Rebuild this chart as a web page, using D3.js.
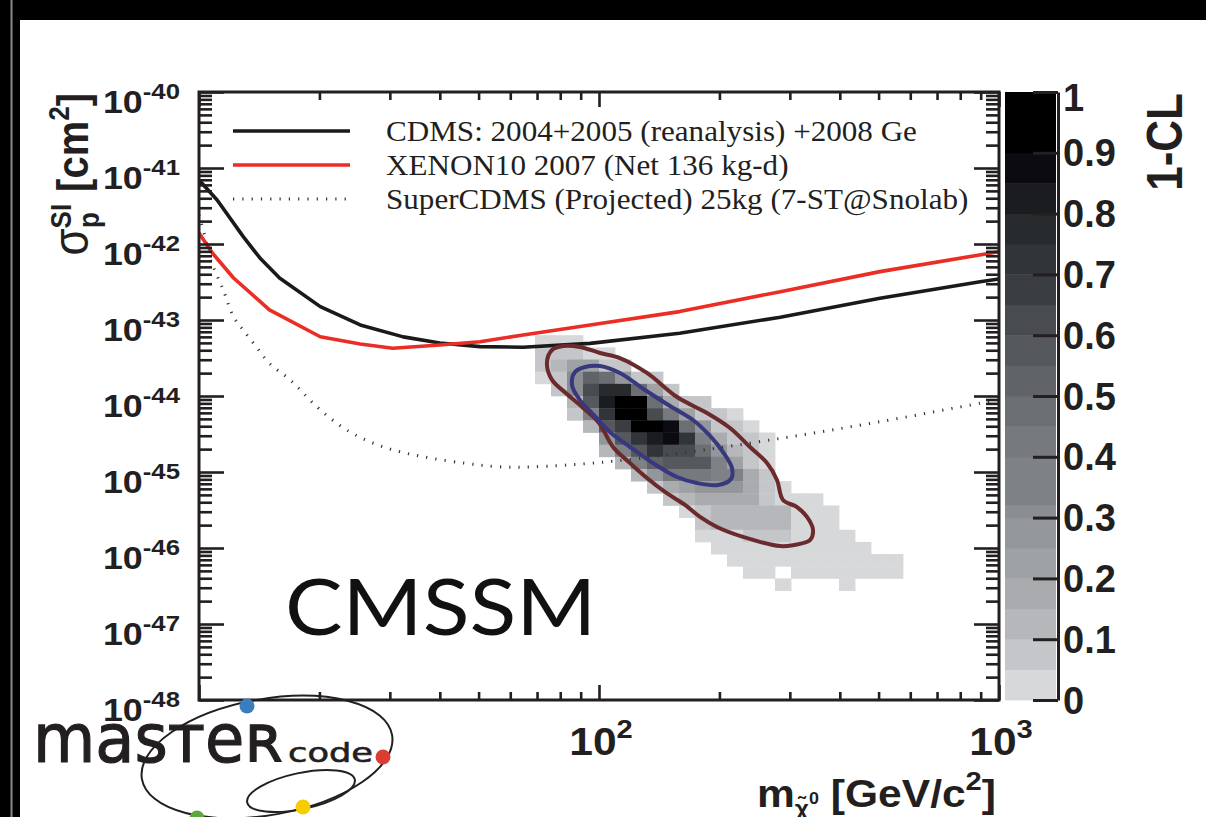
<!DOCTYPE html>
<html>
<head>
<meta charset="utf-8">
<script src="https://cdn.jsdelivr.net/npm/d3@7"></script>
<style>
  html, body { margin: 0; padding: 0; background: #fff; }
  svg { display: block; }
  .ticks .tick line { stroke: #231f20; stroke-width: 2.6; }
  .ticks .domain { display: none; }
  .cbaxis .tick line { stroke: #231f20; stroke-width: 3; }
  .cbaxis .domain { stroke: #231f20; stroke-width: 3; }
</style>
</head>
<body>
<svg id="chart" width="1206" height="817"></svg>
<script>
// ---------- data ----------
// Direct-detection upper limits: [neutralino mass (GeV), sigma_SI (cm^2)]
const cdmsLimit = [
  [10, 6.95e-42], [11.1, 3.79e-42], [12.9, 1.25e-42], [14.2, 6.55e-43], [15.9, 3.57e-43],
  [20.1, 1.50e-43], [25.3, 8.6e-44], [32.4, 6.0e-44], [40, 4.98e-44], [50.4, 4.46e-44],
  [64.6, 4.38e-44], [95, 4.93e-44], [159, 6.68e-44], [284, 1.09e-43], [504, 1.93e-43],
  [897, 3.19e-43], [1000, 3.46e-43]
];
const xenonLimit = [
  [10, 1.4e-42], [10.8, 7.62e-43], [12.2, 3.57e-43], [15.0, 1.36e-43], [20.1, 6.02e-44],
  [25.3, 4.83e-44], [30.5, 4.24e-44], [40, 4.69e-44], [50.4, 5.18e-44], [64.6, 6.35e-44],
  [95, 8.6e-44], [159, 1.29e-43], [284, 2.36e-43], [504, 4.33e-43], [1000, 7.92e-43]
];
const superCdmsProjection = [
  [10, 2.41e-42], [10.35, 1.25e-42], [10.65, 6.55e-43], [11.5, 2.48e-43], [12.2, 1.10e-43],
  [12.9, 7.38e-44], [13.9, 4.46e-44], [15.0, 2.69e-44], [16.9, 1.63e-44], [19.7, 7.23e-45],
  [23.4, 3.57e-45], [28.8, 2.15e-45], [36.3, 1.59e-45], [46.5, 1.30e-45], [56.2, 1.17e-45],
  [68.0, 1.17e-45], [100, 1.33e-45], [159, 1.76e-45], [284, 2.77e-45], [504, 4.59e-45],
  [897, 8.02e-45], [1000, 8.85e-45]
];

// 95% CL and 68% CL contours of the CMSSM fit
const contour95 = [
  [76.3, 4.03e-44], [74.1, 2.72e-44], [76.3, 1.63e-44], [82.7, 1.09e-44], [90.7, 7.16e-45],
  [100, 4.42e-45], [108.4, 2.13e-45], [119.6, 1.31e-45], [131.8, 8.34e-46], [146.2, 5.46e-46],
  [164.1, 3.68e-46], [178.9, 2.56e-46], [197.2, 1.89e-46], [229.1, 1.40e-46], [283.5, 1.06e-46],
  [305.5, 1.09e-46], [336.9, 1.27e-46], [342.8, 1.73e-46], [331.1, 2.56e-46], [312.6, 3.46e-46],
  [288.4, 4.29e-46], [278.6, 7.85e-46], [263.0, 1.31e-45], [238.5, 2.13e-45], [212.6, 3.79e-45],
  [186.2, 5.97e-45], [156.7, 9.70e-45], [131.8, 2.01e-44], [112.8, 3.16e-44], [100.6, 3.68e-44],
  [89.6, 4.42e-44], [81.3, 4.55e-44]
];
const contour68 = [
  [85.6, 1.40e-44], [87.1, 2.07e-44], [92.3, 2.41e-44], [100.6, 2.48e-44], [112.8, 2.01e-44],
  [130.3, 1.20e-44], [150.5, 7.38e-45], [171.8, 4.83e-45], [189.5, 2.98e-45], [204.2, 1.83e-45],
  [215.0, 1.13e-45], [213.8, 8.09e-46], [198.4, 6.75e-46], [175.8, 7.16e-46], [156.7, 8.59e-46],
  [136.5, 1.31e-45], [119.6, 2.13e-45], [106.5, 3.36e-45], [96.6, 5.79e-45], [89.6, 8.85e-45]
];

// 1-CL map on a 50 x 50 grid, log-binned in mass [10, 1000] GeV and sigma [1e-48, 1e-40] cm^2.
// Each row: sigma bin (counted from the bottom), first filled mass bin, 1-CL values (null = empty).
const gridBins = 50;
const massLogRange = [1, 3];
const sigmaLogRange = [-48, -40];
const clRows = [
  { sigmaBin: 29, firstMassBin: 21, values: [0.03, 0.03, 0.03] },
  { sigmaBin: 28, firstMassBin: 21, values: [0.06, 0.08, 0.08, 0.04, 0.03] },
  { sigmaBin: 27, firstMassBin: 21, values: [0.05, 0.11, 0.22, 0.2, 0.06, 0.06] },
  { sigmaBin: 26, firstMassBin: 21, values: [0.03, 0.08, 0.3, 0.52, 0.47, 0.25, 0.07, 0.07] },
  { sigmaBin: 25, firstMassBin: 22, values: [0.08, 0.3, 0.62, 0.77, 0.77, 0.45, 0.22, 0.08] },
  { sigmaBin: 24, firstMassBin: 23, values: [0.1, 0.55, 0.82, 0.95, 0.95, 0.45, 0.18, 0.06, 0.06] },
  { sigmaBin: 23, firstMassBin: 23, values: [0.05, 0.35, 0.7, 0.95, 0.95, 0.6, 0.42, 0.2, 0.06, 0.06, 0.03] },
  { sigmaBin: 22, firstMassBin: 24, values: [0.12, 0.55, 0.67, 0.95, 0.95, 0.88, 0.47, 0.25, 0.08, 0.05, 0.03] },
  { sigmaBin: 21, firstMassBin: 25, values: [0.25, 0.57, 0.7, 0.82, 0.88, 0.7, 0.35, 0.18, 0.09, 0.05, 0.03] },
  { sigmaBin: 20, firstMassBin: 25, values: [0.12, 0.35, 0.57, 0.7, 0.62, 0.6, 0.47, 0.27, 0.12, 0.06, 0.03] },
  { sigmaBin: 19, firstMassBin: 26, values: [0.12, 0.35, 0.52, 0.55, 0.55, 0.57, 0.33, 0.2, 0.09, 0.04] },
  { sigmaBin: 18, firstMassBin: 27, values: [0.12, 0.27, 0.42, 0.42, 0.42, 0.36, 0.35, 0.15, 0.05] },
  { sigmaBin: 17, firstMassBin: 28, values: [0.08, 0.15, 0.22, 0.27, 0.25, 0.25, 0.15, 0.05, 0.03] },
  { sigmaBin: 16, firstMassBin: 29, values: [0.05, 0.1, 0.18, 0.18, 0.18, 0.15, 0.05, 0.03, 0.03, 0.03] },
  { sigmaBin: 15, firstMassBin: 30, values: [0.04, 0.08, 0.1, 0.1, 0.1, 0.12, 0.12, 0.04, 0.04, 0.03] },
  { sigmaBin: 14, firstMassBin: 31, values: [0.05, 0.1, 0.1, 0.1, 0.12, 0.12, 0.04, 0.04, 0.03] },
  { sigmaBin: 13, firstMassBin: 31, values: [0.03, 0.03, 0.03, 0.06, 0.06, 0.06, 0.03, 0.03, 0.03, 0.03] },
  { sigmaBin: 12, firstMassBin: 32, values: [0.03, 0.03, 0.03, 0.03, 0.03, 0.03, 0.03, 0.03, 0.03, 0.03] },
  { sigmaBin: 11, firstMassBin: 33, values: [0.03, 0.03, 0.03, 0.03, 0.03, 0.03, 0.03, 0.03, 0.03, 0.03, 0.03] },
  { sigmaBin: 10, firstMassBin: 34, values: [0.03, 0.03, null, 0.03, 0.03, 0.03, 0.03, 0.03, 0.03, 0.03] },
  { sigmaBin: 9, firstMassBin: 36, values: [0.03, null, null, null, 0.03] }
];

// Colour levels of the 1-CL palette
const clLevels = [0, 0.05, 0.1, 0.15, 0.2, 0.25, 0.3, 0.32, 0.4, 0.45, 0.5, 0.55, 0.6, 0.65, 0.7, 0.75, 0.8, 0.85, 0.9, 1];
const clColors = [
  '#d7d8da', '#c4c6c9', '#b5b7ba', '#a9abae', '#9fa2a5', '#93969a', '#8a8d91', '#7e8185',
  '#76797d', '#6b6e72', '#606367', '#55585c', '#484b4f', '#3a3d41', '#31353a', '#272b2e',
  '#1a1c1f', '#0b0b11', '#000000'
];
const colorbarTicks = [0, 0.1, 0.2, 0.3, 0.4, 0.5, 0.6, 0.7, 0.8, 0.9, 1];
const colorbarTickLabels = ['0', '0.1', '0.2', '0.3', '0.4', '0.5', '0.6', '0.7', '0.8', '0.9', '1'];

const sigmaTickExponents = [-40, -41, -42, -43, -44, -45, -46, -47, -48];
const massTickExponents = [2, 3];

const legendEntries = [
  { label: 'CDMS: 2004+2005 (reanalysis) +2008 Ge', color: '#1a1a1a', dashed: false },
  { label: 'XENON10 2007 (Net 136 kg-d)', color: '#ea2d25', dashed: false },
  { label: 'SuperCDMS (Projected) 25kg (7-ST@Snolab)', color: '#333', dashed: true }
];

// ---------- layout ----------
const W = 1206, H = 817;
const frame = { left: 199, right: 999, top: 92, bottom: 700 };
const HELV = "'Liberation Sans', Arial, Helvetica, sans-serif";
const TIMES = "'Liberation Serif', 'Times New Roman', serif";
const STRETCH = 1.12;

const svg = d3.select('#chart');

const x = d3.scaleLog().domain([10, 1000]).range([frame.left, frame.right]);
const y = d3.scaleLog().domain([1e-48, 1e-40]).range([frame.bottom, frame.top]);
const clColor = d3.scaleThreshold().domain(clLevels.slice(1, -1)).range(clColors);

// page background and dark border strips
svg.append('rect').attr('width', W).attr('height', H).attr('fill', '#fff');
svg.append('rect').attr('x', 0).attr('y', 0).attr('width', W).attr('height', 20).attr('fill', '#000');
svg.append('rect').attr('x', 0).attr('y', 0).attr('width', 20).attr('height', H).attr('fill', '#000');
svg.append('line').attr('x1', 11.5).attr('x2', 11.5).attr('y1', 0).attr('y2', H)
  .attr('stroke', '#8a8a8a').attr('stroke-width', 2);

svg.append('defs').append('clipPath').attr('id', 'plotClip')
  .append('rect')
  .attr('x', frame.left).attr('y', frame.top)
  .attr('width', frame.right - frame.left).attr('height', frame.bottom - frame.top);

const plot = svg.append('g').attr('clip-path', 'url(#plotClip)');

// ---------- 1-CL cells ----------
const massEdge = i => Math.pow(10, massLogRange[0] + i * (massLogRange[1] - massLogRange[0]) / gridBins);
const sigmaEdge = j => Math.pow(10, sigmaLogRange[0] + j * (sigmaLogRange[1] - sigmaLogRange[0]) / gridBins);
const cells = clRows.flatMap(r => r.values.map((v, k) =>
  v == null ? null : { ix: r.firstMassBin + k, iy: r.sigmaBin, v })).filter(Boolean);

plot.append('g').selectAll('rect').data(cells).join('rect')
  .attr('x', d => x(massEdge(d.ix)))
  .attr('y', d => y(sigmaEdge(d.iy + 1)))
  .attr('width', d => x(massEdge(d.ix + 1)) - x(massEdge(d.ix)) + 0.4)
  .attr('height', d => y(sigmaEdge(d.iy)) - y(sigmaEdge(d.iy + 1)) + 0.4)
  .attr('fill', d => clColor(d.v));

// ---------- limit curves ----------
const limitLine = d3.line().x(d => x(d[0])).y(d => y(d[1]));
const smoothLine = d3.line().x(d => x(d[0])).y(d => y(d[1])).curve(d3.curveCatmullRom.alpha(0.5));

plot.append('path').datum(superCdmsProjection).attr('d', smoothLine)
  .attr('fill', 'none').attr('stroke', '#333').attr('stroke-width', 3)
  .attr('stroke-dasharray', '1.2 8.1');
plot.append('path').datum(cdmsLimit).attr('d', limitLine)
  .attr('fill', 'none').attr('stroke', '#1a1a1a').attr('stroke-width', 3.6).attr('stroke-linejoin', 'round');
plot.append('path').datum(xenonLimit).attr('d', limitLine)
  .attr('fill', 'none').attr('stroke', '#ea2d25').attr('stroke-width', 3.6).attr('stroke-linejoin', 'round');

// ---------- CL contours ----------
const closedLine = d3.line().x(d => x(d[0])).y(d => y(d[1])).curve(d3.curveCatmullRomClosed.alpha(0.5));
plot.append('path').datum(contour95).attr('d', closedLine)
  .attr('fill', 'none').attr('stroke', '#6b2b2d').attr('stroke-width', 4);
plot.append('path').datum(contour68).attr('d', closedLine)
  .attr('fill', 'none').attr('stroke', '#38387e').attr('stroke-width', 4);

// ---------- frame and ticks ----------
const isDecade = v => Math.abs(Math.log10(v) - Math.round(Math.log10(v))) < 1e-6;
const yAll = y.ticks();
const yMajor = yAll.filter(isDecade), yMinor = yAll.filter(v => !isDecade(v));
const xAll = x.ticks();
const xMajor = xAll.filter(isDecade), xMinor = xAll.filter(v => !isDecade(v));

function tickAxis(axisFn, scale, values, size, tx, ty) {
  svg.append('g').attr('class', 'ticks').attr('transform', `translate(${tx},${ty})`)
    .call(axisFn(scale).tickValues(values).tickSize(size).tickSizeOuter(0).tickFormat(''));
}
tickAxis(d3.axisRight, y, yMajor, 25, frame.left, 0);
tickAxis(d3.axisRight, y, yMinor, 13, frame.left, 0);
tickAxis(d3.axisLeft, y, yMajor, 25, frame.right, 0);
tickAxis(d3.axisLeft, y, yMinor, 13, frame.right, 0);
tickAxis(d3.axisTop, x, xMajor, 15, 0, frame.bottom);
tickAxis(d3.axisTop, x, xMinor, 8, 0, frame.bottom);
tickAxis(d3.axisBottom, x, xMajor, 15, 0, frame.top);
tickAxis(d3.axisBottom, x, xMinor, 8, 0, frame.top);

svg.append('rect')
  .attr('x', frame.left).attr('y', frame.top)
  .attr('width', frame.right - frame.left).attr('height', frame.bottom - frame.top)
  .attr('fill', 'none').attr('stroke', '#231f20').attr('stroke-width', 3);

// ---------- tick labels ----------
function stretched(parent, tx, ty, sx, extra) {
  return parent.append('g')
    .attr('transform', `translate(${tx},${ty}) scale(${sx},1)${extra || ''}`)
    .append('text');
}

sigmaTickExponents.forEach(e => {
  const t = stretched(svg, 180, y(Math.pow(10, e)) + 21, STRETCH)
    .attr('text-anchor', 'end').attr('font-family', HELV).attr('font-weight', 'bold')
    .attr('fill', '#231f20');
  t.append('tspan').attr('font-size', 32).text('10');
  t.append('tspan').attr('font-size', 23).attr('dy', -14).text(String(e));
});

massTickExponents.forEach(e => {
  const t = stretched(svg, x(Math.pow(10, e)) + 2, 755, STRETCH)
    .attr('text-anchor', 'middle').attr('font-family', HELV).attr('font-weight', 'bold')
    .attr('fill', '#231f20');
  t.append('tspan').attr('font-size', 38).text('10');
  t.append('tspan').attr('font-size', 26).attr('dy', -17).text(String(e));
});

// ---------- axis titles ----------
{
  const t = stretched(svg, 996, 807, STRETCH)
    .attr('text-anchor', 'end').attr('font-family', HELV).attr('font-weight', 'bold')
    .attr('fill', '#231f20');
  t.append('tspan').attr('font-size', 38).text('m');
  t.append('tspan').attr('font-size', 22).attr('dy', 9).text('\u03C7\u0303');
  t.append('tspan').attr('font-size', 16).attr('dy', -12).text('0');
  t.append('tspan').attr('font-size', 38).attr('dy', 3).text(' [GeV/c');
  t.append('tspan').attr('font-size', 26).attr('dy', -17).text('2');
  t.append('tspan').attr('font-size', 38).attr('dy', 17).text(']');
}
{
  const t = stretched(svg, 88, 93, STRETCH, ' rotate(-90)')
    .attr('text-anchor', 'end').attr('font-family', HELV).attr('fill', '#231f20');
  t.append('tspan').attr('font-size', 44).text('\u03C3');
  t.append('tspan').attr('font-size', 26).attr('font-weight', 'bold').attr('dy', -15).text('SI');
  t.append('tspan').attr('font-size', 26).attr('font-weight', 'bold').attr('dx', -24).attr('dy', 25).text('p');
  t.append('tspan').attr('font-size', 40).attr('font-weight', 'bold').attr('dx', 9).attr('dy', -10).text(' [cm');
  t.append('tspan').attr('font-size', 26).attr('font-weight', 'bold').attr('dy', -17).text('2');
  t.append('tspan').attr('font-size', 40).attr('font-weight', 'bold').attr('dy', 17).text(']');
}

// ---------- colour bar ----------
const cb = d3.scaleLinear().domain([0, 1]).range([frame.bottom, frame.top]);
const bands = clColors.map((c, i) => ({ lo: clLevels[i], hi: clLevels[i + 1], c }));
svg.append('g').selectAll('rect').data(bands).join('rect')
  .attr('x', 1005).attr('width', 51)
  .attr('y', d => cb(d.hi)).attr('height', d => cb(d.lo) - cb(d.hi) + 0.4)
  .attr('fill', d => d.c);
svg.append('g').attr('class', 'cbaxis').attr('transform', 'translate(1058,0)')
  .call(d3.axisLeft(cb).tickValues(colorbarTicks).tickSize(25).tickSizeOuter(0).tickFormat(''));
svg.append('g').selectAll('text').data(colorbarTicks).join('text')
  .attr('x', 1063).attr('y', d => cb(d)).attr('dy', d => d === 1 ? '0.5em' : '0.36em')
  .attr('font-family', HELV).attr('font-weight', 'bold').attr('font-size', 38)
  .attr('fill', '#231f20')
  .text((d, i) => colorbarTickLabels[i]);
stretched(svg, 1182, 93, STRETCH, ' rotate(-90)')
  .attr('text-anchor', 'end').attr('font-family', HELV).attr('font-weight', 'bold')
  .attr('font-size', 44).attr('fill', '#231f20').text('1-CL');

// ---------- legend ----------
const legendY = [131, 165, 199];
legendEntries.forEach((e, i) => {
  const ly = legendY[i];
  svg.append('line').attr('x1', 233).attr('x2', 350).attr('y1', ly).attr('y2', ly)
    .attr('stroke', e.color).attr('stroke-width', e.dashed ? 3 : 3.6)
    .attr('stroke-dasharray', e.dashed ? '1.2 8.1' : null);
  stretched(svg, 386, ly + 10, 1.02)
    .attr('font-family', TIMES).attr('font-size', 30.5).attr('fill', '#231f20')
    .text(e.label);
});

// ---------- model label ----------
stretched(svg, 285, 635, STRETCH)
  .attr('font-family', "Lato, 'Open Sans', sans-serif").attr('font-size', 77)
  .attr('fill', '#111').text('CMSSM');

// ---------- MasterCode logo ----------
const logo = svg.append('g');
logo.append('ellipse').attr('cx', 0).attr('cy', 0).attr('rx', 127).attr('ry', 58)
  .attr('transform', 'translate(267,757) rotate(-10)')
  .attr('fill', 'none').attr('stroke', '#231f20').attr('stroke-width', 2);
logo.append('ellipse').attr('cx', 0).attr('cy', 0).attr('rx', 55).attr('ry', 18)
  .attr('transform', 'translate(301,791) rotate(-12)')
  .attr('fill', 'none').attr('stroke', '#231f20').attr('stroke-width', 2);
logo.append('text').attr('x', 33).attr('y', 762)
  .attr('font-family', "'DejaVu Sans', sans-serif")
  .attr('font-size', 68).attr('textLength', 250).attr('lengthAdjust', 'spacingAndGlyphs')
  .attr('fill', '#231f20').attr('stroke', '#231f20').attr('stroke-width', 1.2)
  .text('mas\u0442e\u0280');
logo.append('text').attr('x', 288).attr('y', 762)
  .attr('font-family', "'DejaVu Sans', sans-serif")
  .attr('font-size', 27).attr('textLength', 85).attr('lengthAdjust', 'spacingAndGlyphs')
  .attr('fill', '#231f20').attr('stroke', '#231f20').attr('stroke-width', 0.6)
  .text('code');
[[247, 706, '#3b7ec0'], [383, 757, '#dc3d33'], [303, 807, '#f7cc00'], [197, 818, '#5fa641']]
  .forEach(([cx, cy, c]) => logo.append('circle').attr('cx', cx).attr('cy', cy).attr('r', 7.5).attr('fill', c));
</script>
</body>
</html>
